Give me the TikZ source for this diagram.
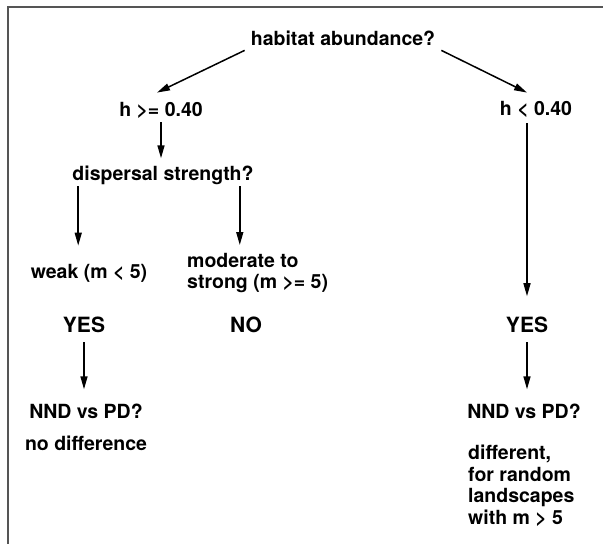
\documentclass[tikz,border=0pt]{standalone}
\usepackage{fontspec}
\setmainfont{TeX Gyre Heros}
\usepackage{tikz}
\usetikzlibrary{calc,arrows.meta}
\definecolor{framecolor}{HTML}{555555}
\tikzstyle{txt} = [
    font=\bfseries\fontsize{19.5}{21.5}\selectfont,
    inner sep=2pt,
    anchor=base
    ]
\tikzstyle{bigtxt} = [
    txt,
    font=\bfseries\fontsize{21}{24}\selectfont
    ]
\tikzstyle{flow} = [
    -{Triangle[length=13pt,width=7pt]},
    line width=1.5pt
    ]

\begin{document}
\begin{tikzpicture}[x=1pt,y=-1pt]
\useasboundingbox (0,0) rectangle (603,544);
\draw[framecolor, line width=1.5pt] (603,7) -- (8,7) -- (8,544);

\node[txt] (habitat) at (343,45) {habitat abundance?};
\node[txt] (hHigh) at (161,116) {h >= 0.40};
\node[txt] (hLow) at (536,115) {h < 0.40};
\node[txt] (disp) at (163,180) {dispersal strength?};
\node[txt] (weak) at (89,278) {weak (m < 5)};
\node[txt, anchor=north west, align=left] (strong) at (185,251) {moderate to\\strong (m >= 5)};
\node[bigtxt] (yesL) at (84,332) {YES};
\node[bigtxt] (no) at (246,332) {NO};
\node[bigtxt] (yesR) at (527,332) {YES};
\node[txt] (nndL) at (86,418) {NND vs PD?};
\node[txt] (nodiff) at (86,450) {no difference};
\node[txt] (nndR) at (524,418) {NND vs PD?};
\node[txt, anchor=north west, align=left] (diff) at (466,443) {different,\\for random\\landscapes\\with m > 5};

% habitat split
\draw[flow] ($(habitat.south west)+(-4,3)$) -- ($(hHigh.north)+(-4,-7)$);
\draw[flow] ($(habitat.south east)+(4,3)$) -- ($(hLow.north)+(-9,-6)$);
\draw[flow, shorten <=2pt, shorten >=5pt] (hHigh.south) -- (hHigh.south |- disp.north);

% dispersal split
\draw[flow, shorten >=16pt] ($(disp.south west)+(8,0)$) -- ($(disp.south west |- weak.north)+(8,0)$);
\draw[flow, shorten >=6pt] ($(disp.south east)+(-16,0)$) -- ($(disp.south east |- strong.north)+(-16,0)$);
\draw[flow, shorten <=8pt, shorten >=12pt] (yesL.south) -- (yesL.south |- nndL.north);

% low habitat
\draw[flow, shorten <=4pt, shorten >=18pt] ($(hLow.south)+(-9,0)$) -- ($(hLow.south |- yesR.north)+(-9,0)$);
\draw[flow, shorten <=8pt, shorten >=12pt] (yesR.south) -- (yesR.south |- nndR.north);
\end{tikzpicture}
\end{document}
